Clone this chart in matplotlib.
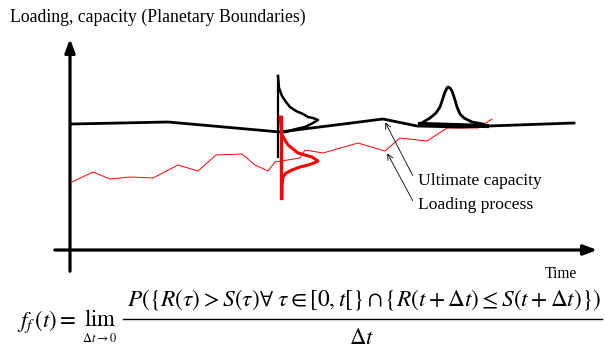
import matplotlib.pyplot as plt

plt.rcParams['font.family'] = ['Liberation Serif', 'DejaVu Serif']
plt.rcParams['mathtext.fontset'] = 'stix'

# capacity (black) and loading process (red), in picture coordinates
cap_x = [72, 168, 280, 383, 417, 460, 574]
cap_y = [124, 122, 132, 119, 126, 127, 123]

load_x = [72, 93, 110, 130, 153, 178, 198, 216, 242, 255, 268, 275, 300, 305,
          323, 358, 385, 400, 427, 447, 478, 492]
load_y = [182, 172, 179, 177, 178, 165, 171, 155, 154, 165, 171, 162, 158, 150,
          153, 143, 151, 138, 141, 128, 128, 119]

# capacity distribution at first time cut (vertical)
capd_x = [278, 279, 282, 286, 290, 296, 303, 308, 313, 318, 313, 305, 296, 289, 285]
capd_y = [76, 88, 96, 102, 107, 111, 114, 117, 118, 120, 123, 127, 129, 131, 132]

# loading distribution at first time cut (vertical)
loadd_x = [280, 282, 285, 288, 293, 298, 305, 312, 318, 314, 308, 300, 292, 286, 283, 282, 282]
loadd_y = [117, 135, 140, 145, 149, 153, 155, 157, 161, 163, 165, 167, 170, 173, 177, 185, 198]

# capacity distribution at second time cut (horizontal)
capd2_x = [420, 430, 436, 440, 443, 445, 447, 448, 450, 452, 455, 457, 460, 464, 472, 483]
capd2_y = [124, 118, 113, 107, 98, 92, 88, 87, 88, 91, 100, 107, 114, 118, 122, 124]

fig = plt.figure(figsize=(6.05, 3.47), dpi=100)
ax = fig.add_axes([0, 0, 1, 1])
ax.set_xlim(0, 605)
ax.set_ylim(347, 0)
ax.axis('off')

# axes with arrows
ax.annotate('', xy=(70, 36), xytext=(70, 274),
            arrowprops=dict(arrowstyle='-|>,head_length=0.8,head_width=0.3', color='black', lw=2.3))
ax.annotate('', xy=(600, 250), xytext=(52, 250),
            arrowprops=dict(arrowstyle='-|>,head_length=0.8,head_width=0.3', color='black', lw=2.3))

ax.plot(load_x, load_y, color='red', lw=0.7)
ax.plot(cap_x, cap_y, color='black', lw=2.0)

# distributions
ax.plot([278, 278], [76, 157], color='black', lw=1.6)
ax.plot(capd_x, capd_y, color='black', lw=1.8)
ax.plot([281, 281], [117, 198], color='red', lw=2.4)
ax.plot(loadd_x, loadd_y, color='red', lw=2.2)
ax.plot([420, 487], [124, 126], color='black', lw=3.0)
ax.plot(capd2_x, capd2_y, color='black', lw=2.0)

# annotations
ax.annotate('', xy=(384, 120), xytext=(414, 178),
            arrowprops=dict(arrowstyle='->', color='black', lw=0.6))
ax.annotate('', xy=(386, 151), xytext=(414, 203),
            arrowprops=dict(arrowstyle='->', color='black', lw=0.6))
ax.text(418, 181, 'Ultimate capacity', fontsize=12.6, va='center', ha='left')
ax.text(418, 205, 'Loading process', fontsize=12.6, va='center', ha='left')

ax.text(10, 17, 'Loading, capacity (Planetary Boundaries)', fontsize=12.8, va='center', ha='left')
ax.text(545, 274, 'Time', fontsize=11.2, va='center', ha='left')

# formula
ax.text(17, 322, r'$f_f\,(t) = $', fontsize=16.5, va='center', ha='left')
ax.text(100, 320, r'$\mathrm{lim}$', fontsize=16.5, va='center', ha='center')
ax.text(100, 338, r'$\Delta t\to 0$', fontsize=9, va='center', ha='center')
ax.plot([123, 602], [319, 319], color='black', lw=1.0)
ax.text(364, 300, r'$P(\{R(\tau) > S(\tau)\forall\;\tau\in[0,t[\}\cap\{R(t+\Delta t)\leq S(t+\Delta t)\})$',
        fontsize=16.8, va='center', ha='center')
ax.text(362, 338, r'$\Delta t$', fontsize=16.5, va='center', ha='center')

fig.savefig('out.png', dpi=100)
